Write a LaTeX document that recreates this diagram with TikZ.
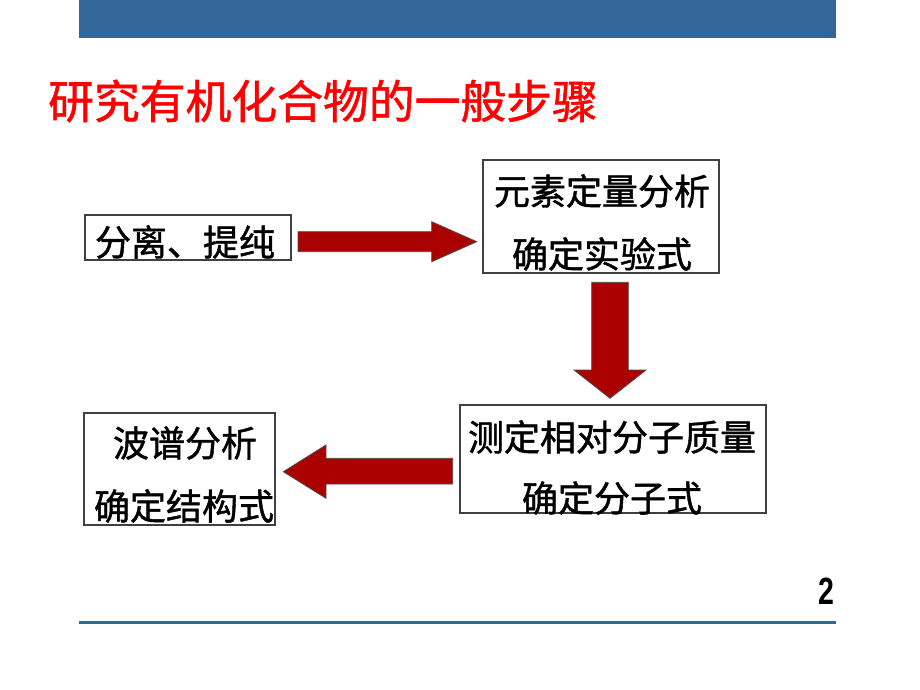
\documentclass[tikz,border=0pt]{standalone}
\usepackage{fontspec}
\setmainfont{Liberation Sans}
\newfontfamily\cjk{Noto Sans CJK SC}[FakeBold=1.2]
\definecolor{barblue}{RGB}{51,102,153}
\definecolor{arrowred}{RGB}{170,0,0}
\begin{document}
\begin{tikzpicture}[x=1pt,y=-1pt,
  box/.style={draw=black!75, line width=1.2pt, fill=white, inner sep=0pt},
  txt/.style={inner sep=0pt, font=\cjk\fontsize{36}{36}\selectfont},
  bigarrow/.style={fill=arrowred, draw=black!70, line width=0.8pt, line join=miter}]
\useasboundingbox (0,0) rectangle (920,690);
\fill[white] (0,0) rectangle (920,690);
% top bar
\node[fill=barblue, minimum width=757pt, minimum height=38pt, inner sep=0pt, anchor=north west] (bar) at (79,0) {};
% title
\node[text=red, font=\cjk\fontsize{45.8}{46}\selectfont, anchor=west, inner sep=0pt] (title) at (48,101) {研究有机化合物的一般步骤};
% boxes
\node[box, minimum width=206pt, minimum height=45pt] (b1) at (188,237.5) {};
\node[box, minimum width=236pt, minimum height=113pt] (b2) at (601,216.5) {};
\node[box, minimum width=306pt, minimum height=108pt] (b3) at (613,459) {};
\node[box, minimum width=191pt, minimum height=112pt] (b4) at (179.5,469) {};
% texts
\node[txt] (t1) at (185,242) {分离、提纯};
\node[txt] (t2a) at (602,191) {元素定量分析};
\node[txt] (t2b) at (602,254) {确定实验式};
\node[txt] (t3a) at (612,437) {测定相对分子质量};
\node[txt] (t3b) at (612,498) {确定分子式};
\node[txt] (t4a) at (185,443) {波谱分析};
\node[txt] (t4b) at (184,506) {确定结构式};
% block arrows
\draw[bigarrow] (298,231.7) -- (431.7,231.7) -- (431.7,221.7) -- (476.7,241.7) -- (431.7,261.7) -- (431.7,251.7) -- (298,251.7) -- cycle;
\draw[bigarrow] (591.7,282.3) -- (628.3,282.3) -- (628.3,370) -- (646,370) -- (610,398.3) -- (574,370) -- (591.7,370) -- cycle;
\draw[bigarrow] (452.7,458.3) -- (326,458.3) -- (326,445) -- (283.3,471.7) -- (326,498.3) -- (326,484) -- (452.7,484) -- cycle;
% bottom line and page number
\coordinate (lineL) at (79,622);
\coordinate (lineR) at (836,622);
\draw[barblue, line width=3pt] (lineL) -- (lineR);
\node[font=\bfseries\fontsize{38}{38}\selectfont, inner sep=0pt] (pnum) at (826,591) {\scalebox{0.75}[1]{2}};
\end{tikzpicture}
\end{document}
